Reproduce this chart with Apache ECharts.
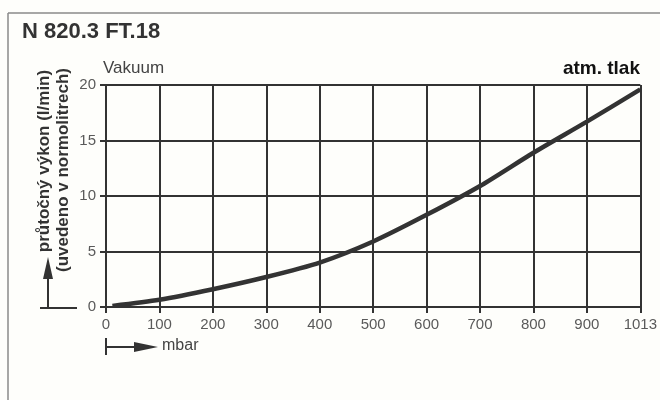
<!DOCTYPE html>
<html>
<head>
<meta charset="utf-8">
<script src="https://cdn.jsdelivr.net/npm/echarts@6/dist/echarts.min.js"></script>
<style>
  html, body { margin: 0; padding: 0; background: #fefefb; }
  #chart { width: 660px; height: 400px; }
</style>
</head>
<body>
<div id="chart"></div>
<script>
// position on the grid (0..1000), last column is labelled 1013 mbar
var mbarValues = [12, 100, 200, 300, 400, 500, 600, 700, 800, 900, 1000];
var flowValues = [0.1, 0.65, 1.6, 2.7, 4.0, 5.9, 8.3, 10.9, 13.9, 16.7, 19.6];
var xTicks = [0, 100, 200, 300, 400, 500, 600, 700, 800, 900, 1000];
var xTickLabels = ['0', '100', '200', '300', '400', '500', '600', '700', '800', '900', '1013'];

var myChart = echarts.init(document.getElementById('chart'));
var ink = '#333';
var fam = 'Liberation Sans, Arial, sans-serif';

var option = {
    backgroundColor: '#fefefb',
    animation: false,
    grid: { left: 106, right: 17, top: 85, bottom: 93 },
    xAxis: {
        type: 'value',
        min: 0,
        max: 1000,
        interval: 100,
        axisLine: { show: true, lineStyle: { color: ink, width: 2 } },
        axisTick: { show: true, length: 6, lineStyle: { color: ink, width: 2 } },
        axisLabel: {
            color: '#5a5a5a',
            fontSize: 15,
            fontFamily: fam,
            margin: 10,
            formatter: function (v) {
                var i = xTicks.indexOf(v);
                return i >= 0 ? xTickLabels[i] : '';
            }
        },
        splitLine: { show: true, lineStyle: { color: ink, width: 2 } }
    },
    yAxis: {
        type: 'value',
        min: 0,
        max: 20,
        interval: 5,
        axisLine: { show: true, lineStyle: { color: ink, width: 2 } },
        axisTick: { show: true, length: 6, lineStyle: { color: ink, width: 2 } },
        axisLabel: {
            color: '#5a5a5a',
            fontSize: 15,
            fontFamily: fam,
            margin: 10
        },
        splitLine: { show: true, lineStyle: { color: ink, width: 2 } }
    },
    graphic: [
        // frame
        { type: 'line', shape: { x1: 8, y1: 13, x2: 660, y2: 13 }, style: { stroke: '#8a8a8a', lineWidth: 1.5 } },
        { type: 'line', shape: { x1: 8, y1: 13, x2: 8, y2: 400 }, style: { stroke: '#8a8a8a', lineWidth: 1.5 } },
        {
            type: 'text', left: 22, top: 21,
            style: { text: 'N 820.3 FT.18', fill: '#333', font: 'bold 22px ' + fam }
        },
        {
            type: 'text', left: 103, top: 60,
            style: { text: 'Vakuum', fill: '#444', font: '17px ' + fam }
        },
        {
            type: 'text', right: 20, top: 59,
            style: { text: 'atm. tlak', fill: '#111', font: 'bold 19px ' + fam }
        },
        // y axis name, two rotated lines
        {
            type: 'text', x: 44, y: 161, rotation: Math.PI / 2,
            style: { text: 'průtočný výkon (l/min)', fill: '#333', font: 'bold 17px ' + fam, align: 'center', verticalAlign: 'middle' }
        },
        {
            type: 'text', x: 63, y: 170, rotation: Math.PI / 2,
            style: { text: '(uvedeno v normolitrech)', fill: '#333', font: 'bold 17px ' + fam, align: 'center', verticalAlign: 'middle' }
        },
        // y arrow
        { type: 'line', shape: { x1: 40, y1: 308, x2: 77, y2: 308 }, style: { stroke: ink, lineWidth: 2 } },
        { type: 'line', shape: { x1: 48, y1: 308, x2: 48, y2: 272 }, style: { stroke: ink, lineWidth: 2 } },
        { type: 'polygon', shape: { points: [[48, 257], [43, 279], [53, 279]] }, style: { fill: ink } },
        // x arrow
        { type: 'line', shape: { x1: 106, y1: 338, x2: 106, y2: 355 }, style: { stroke: ink, lineWidth: 2 } },
        { type: 'line', shape: { x1: 106, y1: 347, x2: 140, y2: 347 }, style: { stroke: ink, lineWidth: 2 } },
        { type: 'polygon', shape: { points: [[158, 347], [134, 342], [134, 352]] }, style: { fill: ink } },
        {
            type: 'text', left: 162, top: 338,
            style: { text: 'mbar', fill: '#444', font: '16px ' + fam }
        }
    ],
    series: [
        {
            type: 'line',
            data: mbarValues.map(function (x, i) { return [x, flowValues[i]]; }),
            smooth: 0.25,
            showSymbol: false,
            lineStyle: { color: ink, width: 4.5 }
        }
    ]
};
myChart.setOption(option);
window.addEventListener('resize', function () {
    myChart.resize();
});
</script>
</body>
</html>
